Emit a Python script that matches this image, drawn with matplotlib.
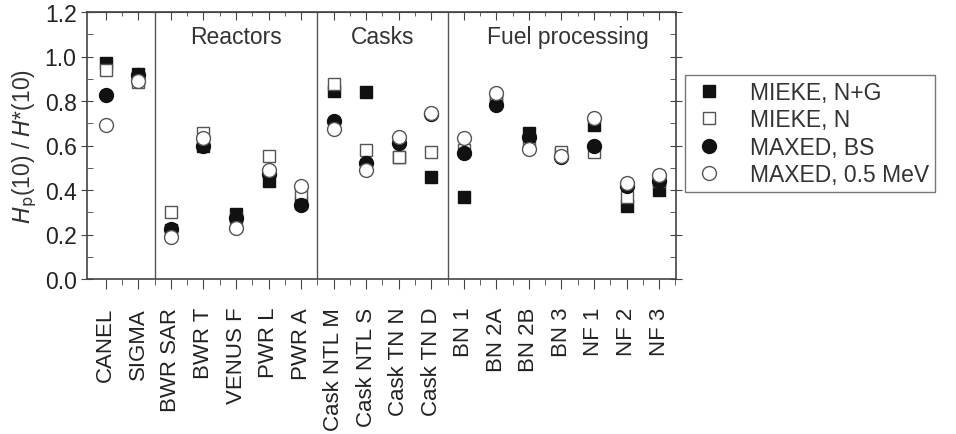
import matplotlib
matplotlib.use("Agg")
import matplotlib.pyplot as plt
from matplotlib.ticker import MultipleLocator, FixedLocator
import numpy as np

plt.rcParams['font.family'] = ['Liberation Sans', 'DejaVu Sans']

categories = ["CANEL", "SIGMA", "BWR SAR", "BWR T", "VENUS F", "PWR L", "PWR A",
              "Cask NTL M", "Cask NTL S", "Cask TN N", "Cask TN D",
              "BN 1", "BN 2A", "BN 2B", "BN 3", "NF 1", "NF 2", "NF 3"]

mieke_ng = [0.97, 0.92, 0.22, 0.60, 0.29, 0.44, 0.34,
            0.845, 0.84, 0.55, 0.46,
            0.37, 0.80, 0.655, 0.56, 0.69, 0.33, 0.40]
mieke_n = [0.94, 0.885, 0.30, 0.655, 0.27, 0.555, 0.385,
           0.875, 0.58, 0.55, 0.57,
           0.58, 0.81, 0.62, 0.57, 0.57, 0.37, 0.44]
maxed_bs = [0.825, 0.915, 0.225, 0.597, 0.275, 0.47, 0.334,
            0.71, 0.52, 0.61, 0.74,
            0.567, 0.78, 0.64, 0.55, 0.60, 0.42, 0.44]
maxed_05 = [0.69, 0.89, 0.19, 0.635, 0.23, 0.489, 0.42,
            0.675, 0.49, 0.64, 0.744,
            0.635, 0.838, 0.585, 0.555, 0.725, 0.43, 0.466]

groups = ["Reactors", "Casks", "Fuel processing"]
group_bounds = [2.5, 7.5, 11.5]
group_centers = [5.0, 9.5, 15.2]

x = np.arange(1, len(categories) + 1)

fig = plt.figure(figsize=(9.56, 4.35), dpi=100)
ax = fig.add_axes([87 / 956, 1 - 280 / 435, 589 / 956, 267 / 435])

ax.plot(x, mieke_ng, 's', ms=8.5, mfc='#111111', mec='#111111', ls='none', label='MIEKE, N+G')
ax.plot(x, mieke_n, 's', ms=8.5, mfc='white', mec='#555555', mew=1.0, ls='none', label='MIEKE, N')
ax.plot(x, maxed_bs, 'o', ms=10, mfc='#111111', mec='#111111', ls='none', label='MAXED, BS')
ax.plot(x, maxed_05, 'o', ms=10, mfc='white', mec='#555555', mew=1.0, ls='none', label='MAXED, 0.5 MeV')

for b in group_bounds:
    ax.axvline(b, color='#555555', lw=1.0)
for g, c in zip(groups, group_centers):
    ax.text(c, 1.09, g, ha='center', va='center', fontsize=16.5, color='#333333')

ax.set_xlim(0.42, 18.52)
ax.set_ylim(0, 1.2)
ax.set_xticks(x)
ax.set_xticklabels(categories, rotation=90, fontsize=16, color='#222222', va='top')
ax.xaxis.set_minor_locator(FixedLocator(x + 0.5))
ax.set_yticks(np.arange(0, 1.21, 0.2))
ax.yaxis.set_minor_locator(MultipleLocator(0.1))
ax.set_yticklabels([f"{v:.1f}" for v in np.arange(0, 1.21, 0.2)], fontsize=16.5, color='#222222')
ax.tick_params(axis='y', which='major', direction='inout', right=True, length=9, color='#444444', pad=3)
ax.tick_params(axis='y', which='minor', direction='in', right=True, length=4, color='#444444')
ax.tick_params(axis='x', which='both', direction='out', top=False, color='#444444')
ax.tick_params(axis='x', which='major', length=7, pad=13)
ax.tick_params(axis='x', which='minor', length=4)
secx = ax.secondary_xaxis('top')
secx.set_xticks(x)
secx.set_xticklabels([])
secx.xaxis.set_minor_locator(FixedLocator(x + 0.5))
secx.tick_params(axis='x', which='both', direction='in', color='#444444')
secx.tick_params(axis='x', which='major', length=6)
secx.tick_params(axis='x', which='minor', length=3)
secx.spines['top'].set_color('#444444')
for s in ax.spines.values():
    s.set_color('#444444')
    s.set_linewidth(1.2)

ax.set_ylabel(r"$H_\mathrm{p}$(10) / $H$*(10)", fontsize=16.5, color='#333333', labelpad=4)

leg = ax.legend(loc='upper left', bbox_to_anchor=(1.015, 0.764), fontsize=16.5, frameon=True,
                fancybox=False, edgecolor='#555555', handletextpad=1.0, borderpad=0.25,
                labelspacing=0.2, handlelength=1.6, borderaxespad=0)
for t in leg.get_texts():
    t.set_color('#333333')
leg.get_frame().set_linewidth(1.0)

fig.savefig("out.png", dpi=100)
